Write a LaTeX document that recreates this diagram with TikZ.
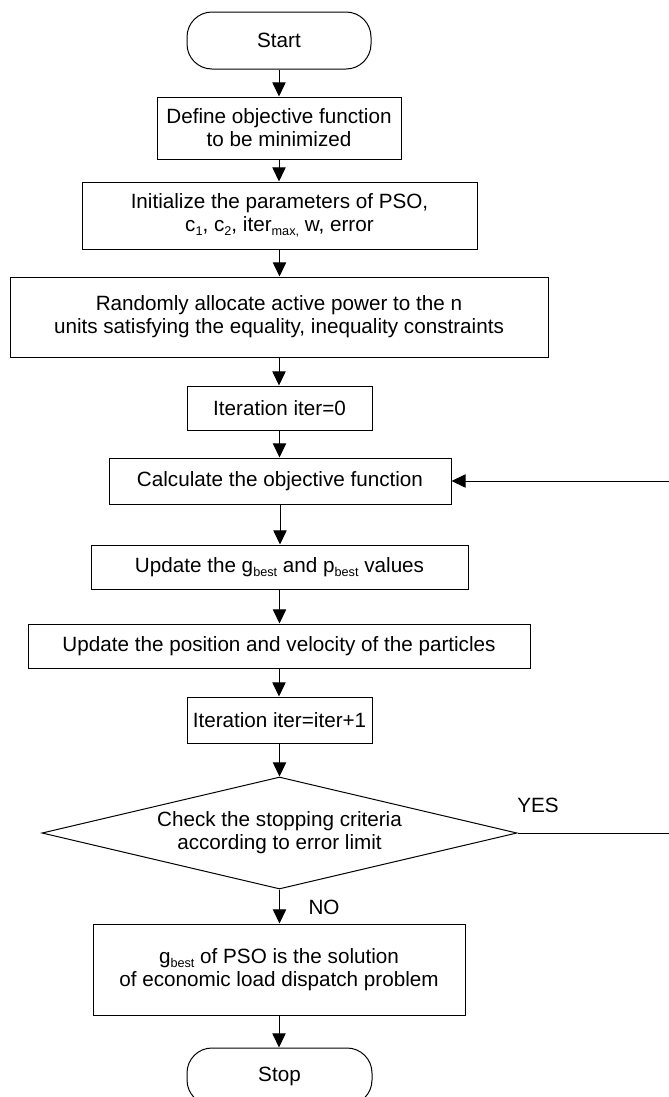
\documentclass[tikz,border=0pt]{standalone}
\usepackage{fontspec}
\setmainfont{Liberation Sans}
\usetikzlibrary{arrows.meta,shapes.geometric}
\newcommand{\lowsub}[1]{\raisebox{-0.35ex}{\fontsize{7.6}{8}\selectfont#1}}

\begin{document}
\begin{tikzpicture}[x=0.6pt,y=-0.6pt,
  every node/.style={font=\fontsize{12.4}{13.8}\selectfont, inner sep=0pt},
  box/.style={draw, line width=0.6pt, align=center},
  term/.style={draw, line width=0.6pt, rounded corners=15pt},
  arr/.style={-{Triangle[length=8.5pt,width=8pt]}, line width=0.6pt}]
  \useasboundingbox (0,0) rectangle (668,1097);
  \node[term, minimum width=110.4pt, minimum height=34.2pt] (start) at (279,40.5) {Start};
  \node[box, minimum width=146.4pt, minimum height=37.2pt] (define) at (279,128)
    {Define objective function\\to be minimized};
  \node[box, minimum width=237pt, minimum height=40.2pt] (init) at (279.5,215.5)
    {Initialize the parameters of PSO,\\c\lowsub{1}, c\lowsub{2}, iter\lowsub{max,} w, error};
  \node[box, minimum width=322.8pt, minimum height=48pt] (random) at (279,317)
    {Randomly allocate active power to the n\\units satisfying the equality, inequality constraints};
  \node[box, minimum width=111pt, minimum height=26.4pt] (iterzero) at (279.5,408) {Iteration iter=0};
  \node[box, minimum width=205.2pt, minimum height=27.6pt] (calc) at (280,481) {Calculate the objective function};
  \node[box, minimum width=226.2pt, minimum height=26.4pt] (best) at (279.5,567)
    {Update the g\lowsub{best} and p\lowsub{best} values};
  \node[box, minimum width=301.2pt, minimum height=26.4pt] (move) at (279,646)
    {Update the position and velocity of the particles};
  \node[box, minimum width=111pt, minimum height=27.6pt] (iterone) at (279.5,720) {Iteration iter=iter+1};
  \node[box, shape=diamond, aspect=4.24, minimum width=285pt, minimum height=67.2pt] (check) at (279.5,833)
    {Check the stopping criteria\\according to error limit};
  \node[box, minimum width=223.2pt, minimum height=54.6pt] (result) at (279,969.5)
    {g\lowsub{best} of PSO is the solution\\of economic load dispatch problem};
  \node[term, minimum width=111pt, minimum height=34.2pt] (stop) at (279.5,1076.5) {Stop};
  \node (yes) at (538,805) {YES};
  \node (no) at (324,907) {NO};
  \coordinate (edge) at (672,0);
  \foreach \a/\b in {start/define,define/init,init/random,random/iterzero,iterzero/calc,
    calc/best,best/move,move/iterone,iterone/check,check/result,result/stop}
    \draw[arr] (\a.south) -- (\a.south |- \b.north);
  \draw[arr] (check.east) -- (check.east -| edge) |- (calc.east);
\end{tikzpicture}
\end{document}
